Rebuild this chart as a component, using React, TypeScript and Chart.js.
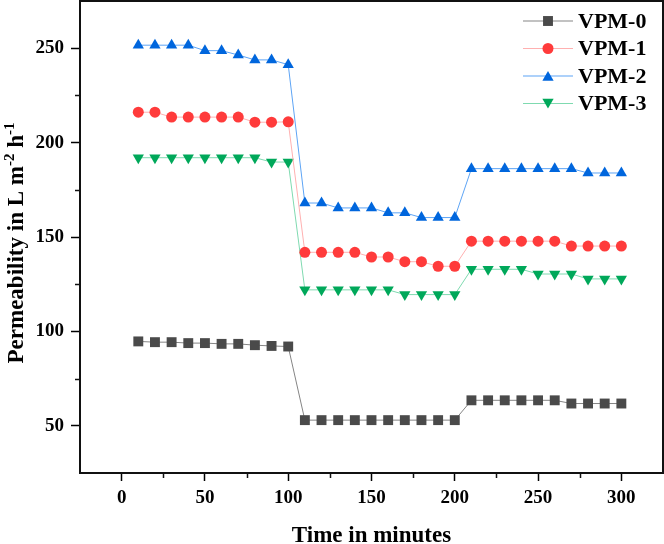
import React, { useEffect, useRef } from "react";
import { Chart, registerables } from "chart.js";

Chart.register(...registerables);

const times = [10, 20, 30, 40, 50, 60, 70, 80, 90, 100, 110, 120, 130, 140, 150, 160, 170, 180, 190, 200, 210, 220, 230, 240, 250, 260, 270, 280, 290, 300];
const vpm0 = [94.7, 94.3, 94.3, 93.8, 93.8, 93.4, 93.4, 92.7, 92.3, 92.0, 53, 53, 53, 53, 53, 53, 53, 53, 53, 53, 63.5, 63.5, 63.5, 63.5, 63.5, 63.5, 61.8, 61.8, 61.8, 61.8];
const vpm1 = [216.1, 216.1, 213.5, 213.5, 213.5, 213.5, 213.5, 210.8, 210.8, 211.0, 141.9, 141.9, 141.9, 141.9, 139.4, 139.4, 136.9, 136.9, 134.5, 134.5, 147.8, 147.8, 147.8, 147.8, 147.8, 147.8, 145.2, 145.2, 145.2, 145.2];
const vpm2 = [251.6, 251.6, 251.6, 251.6, 248.7, 248.7, 246.4, 243.8, 243.8, 241.3, 168, 168, 165.4, 165.4, 165.4, 162.8, 162.8, 160.3, 160.3, 160.3, 186.2, 186.2, 186.2, 186.2, 186.2, 186.2, 186.2, 183.9, 183.9, 183.9];
const vpm3 = [192, 192, 192, 192, 192, 192, 192, 192, 189.7, 189.7, 122, 122, 122, 122, 122, 122, 119.5, 119.5, 119.5, 119.5, 132.9, 132.9, 132.9, 132.9, 130.4, 130.4, 130.4, 127.8, 127.8, 127.8];

const seriesNames = ["VPM-0", "VPM-1", "VPM-2", "VPM-3"];
const xTicks = [0, 50, 100, 150, 200, 250, 300];
const xMinorTicks = [25, 75, 125, 175, 225, 275];
const yTicks = [50, 100, 150, 200, 250];
const yMinorTicks = [75, 125, 175, 225];
const xTitle = "Time in minutes";
const yTitleParts = [
  { text: "Permeability in L m", sup: false },
  { text: "-2", sup: true },
  { text: " h", sup: false },
  { text: "-1", sup: true },
];

const FONT = "'Liberation Serif', 'Times New Roman', serif";

const styles = [
  { marker: "#4a4a4a", line: "#858585", shape: "rect", r: 7 },
  { marker: "#ff3b3b", line: "#ffb0b0", shape: "circle", r: 5.5 },
  { marker: "#0066dd", line: "#5da4f5", shape: "triangle", r: 6.5 },
  { marker: "#00a85a", line: "#7fdab0", shape: "triangleDown", r: 6.5 },
];

function drawMarker(ctx: CanvasRenderingContext2D, shape: string, x: number, y: number, r: number, color: string) {
  ctx.save();
  ctx.fillStyle = color;
  ctx.beginPath();
  if (shape === "rect") {
    const s = Math.SQRT1_2 * r;
    ctx.rect(x - s, y - s, 2 * s, 2 * s);
  } else if (shape === "circle") {
    ctx.arc(x, y, r, 0, Math.PI * 2);
  } else if (shape === "triangle") {
    ctx.moveTo(x, y - r);
    ctx.lineTo(x + r * Math.sin((2 * Math.PI) / 3), y + r / 2);
    ctx.lineTo(x - r * Math.sin((2 * Math.PI) / 3), y + r / 2);
    ctx.closePath();
  } else {
    ctx.moveTo(x, y + r);
    ctx.lineTo(x + r * Math.sin((2 * Math.PI) / 3), y - r / 2);
    ctx.lineTo(x - r * Math.sin((2 * Math.PI) / 3), y - r / 2);
    ctx.closePath();
  }
  ctx.fill();
  ctx.restore();
}

const decorPlugin = {
  id: "decor",
  afterDraw(chart: any) {
    const ctx: CanvasRenderingContext2D = chart.ctx;
    const a = chart.chartArea;
    const xs = chart.scales.x;
    const ys = chart.scales.y;
    ctx.save();
    // frame
    ctx.strokeStyle = "#111";
    ctx.lineWidth = 2;
    ctx.strokeRect(a.left, a.top, a.right - a.left, a.bottom - a.top);
    // minor ticks
    ctx.lineWidth = 1.5;
    ctx.beginPath();
    xMinorTicks.forEach((v) => {
      const px = Math.round(xs.getPixelForValue(v)) + 0.5;
      ctx.moveTo(px, a.bottom);
      ctx.lineTo(px, a.bottom + 5);
    });
    yMinorTicks.forEach((v) => {
      const py = Math.round(ys.getPixelForValue(v)) + 0.5;
      ctx.moveTo(a.left, py);
      ctx.lineTo(a.left - 5, py);
    });
    ctx.stroke();

    // legend
    const lx0 = 523, lx1 = 573, mx = 548, tx = 578;
    const ly = [21, 48.5, 76, 103.5];
    ctx.font = `bold 22px ${FONT}`;
    ctx.textBaseline = "middle";
    ctx.textAlign = "left";
    seriesNames.forEach((name, i) => {
      const st = styles[i];
      ctx.strokeStyle = st.line;
      ctx.lineWidth = 1.2;
      ctx.beginPath();
      ctx.moveTo(lx0, ly[i]);
      ctx.lineTo(lx1, ly[i]);
      ctx.stroke();
      drawMarker(ctx, st.shape, mx, ly[i] + (st.shape === "triangle" ? 1.5 : st.shape === "triangleDown" ? -1.5 : 0), st.r, st.marker);
      ctx.fillStyle = "#000";
      ctx.fillText(name, tx, ly[i] + 1);
    });

    // x title
    ctx.font = `bold 23px ${FONT}`;
    ctx.textAlign = "center";
    ctx.textBaseline = "alphabetic";
    ctx.fillStyle = "#000";
    ctx.fillText(xTitle, (a.left + a.right) / 2, 542);

    // y title with superscripts
    const mainFont = `bold 23px ${FONT}`;
    const supFont = `bold 15px ${FONT}`;
    let total = 0;
    const widths = yTitleParts.map((p) => {
      ctx.font = p.sup ? supFont : mainFont;
      const w = ctx.measureText(p.text).width;
      total += w;
      return w;
    });
    ctx.translate(15, 243);
    ctx.rotate(-Math.PI / 2);
    ctx.textAlign = "left";
    ctx.textBaseline = "alphabetic";
    let cx = -total / 2;
    yTitleParts.forEach((p, i) => {
      ctx.font = p.sup ? supFont : mainFont;
      ctx.fillText(p.text, cx, p.sup ? -1 : 8);
      cx += widths[i];
    });
    ctx.restore();
  },
};

export default function App() {
  const ref = useRef<HTMLCanvasElement | null>(null);
  useEffect(() => {
    if (!ref.current) return;
    const allSeries = [vpm0, vpm1, vpm2, vpm3];
    const chart = new Chart(ref.current, {
      type: "line",
      data: {
        datasets: allSeries.map((vals, i) => ({
          label: seriesNames[i],
          data: times.map((t, j) => ({ x: t, y: vals[j] })),
          borderColor: styles[i].line,
          borderWidth: 1,
          backgroundColor: styles[i].marker,
          pointBackgroundColor: styles[i].marker,
          pointBorderWidth: 0,
          pointBorderColor: styles[i].marker,
          pointStyle: styles[i].shape === "triangleDown" ? "triangle" : styles[i].shape,
          pointRotation: styles[i].shape === "triangleDown" ? 180 : 0,
          pointRadius: styles[i].r,
          pointHoverRadius: styles[i].r,
          tension: 0,
          fill: false,
        })),
      },
      options: {
        animation: false,
        responsive: false,
        maintainAspectRatio: false,
        layout: { autoPadding: false, padding: { top: 1, right: 1, left: 0, bottom: 0 } },
        plugins: {
          legend: { display: false },
          tooltip: { enabled: false },
          title: { display: false },
        },
        scales: {
          x: {
            type: "linear",
            min: -25,
            max: 325,
            afterBuildTicks: (scale: any) => {
              scale.ticks = xTicks.map((v) => ({ value: v }));
            },
            afterFit: (scale: any) => {
              scale.height = 71;
              scale.paddingLeft = 0;
              scale.paddingRight = 0;
              scale.paddingTop = 0;
              scale.paddingBottom = 0;
            },
            border: { display: false },
            grid: {
              display: true,
              drawOnChartArea: false,
              drawTicks: true,
              tickLength: 8,
              tickWidth: 1.5,
              tickColor: "#000",
            },
            ticks: {
              padding: 6,
              color: "#000",
              font: { family: FONT, size: 19, weight: "bold" },
              maxRotation: 0,
              autoSkip: false,
            },
          },
          y: {
            type: "linear",
            min: 25,
            max: 275,
            afterBuildTicks: (scale: any) => {
              scale.ticks = yTicks.map((v) => ({ value: v }));
            },
            afterFit: (scale: any) => {
              scale.width = 80;
              scale.paddingLeft = 0;
              scale.paddingRight = 0;
              scale.paddingTop = 0;
              scale.paddingBottom = 0;
            },
            border: { display: false },
            grid: {
              display: true,
              drawOnChartArea: false,
              drawTicks: true,
              tickLength: 9,
              tickWidth: 1.5,
              tickColor: "#000",
            },
            ticks: {
              padding: 7,
              color: "#000",
              font: { family: FONT, size: 19, weight: "bold" },
              autoSkip: false,
            },
          },
        },
      },
      plugins: [decorPlugin],
    } as any);
    return () => chart.destroy();
  }, []);
  return (
    <div style={{ position: "fixed", left: 0, top: 0, width: 664, height: 544, background: "#fff" }}>
      <canvas ref={ref} width={664} height={544} style={{ width: 664, height: 544, display: "block" }} />
    </div>
  );
}
